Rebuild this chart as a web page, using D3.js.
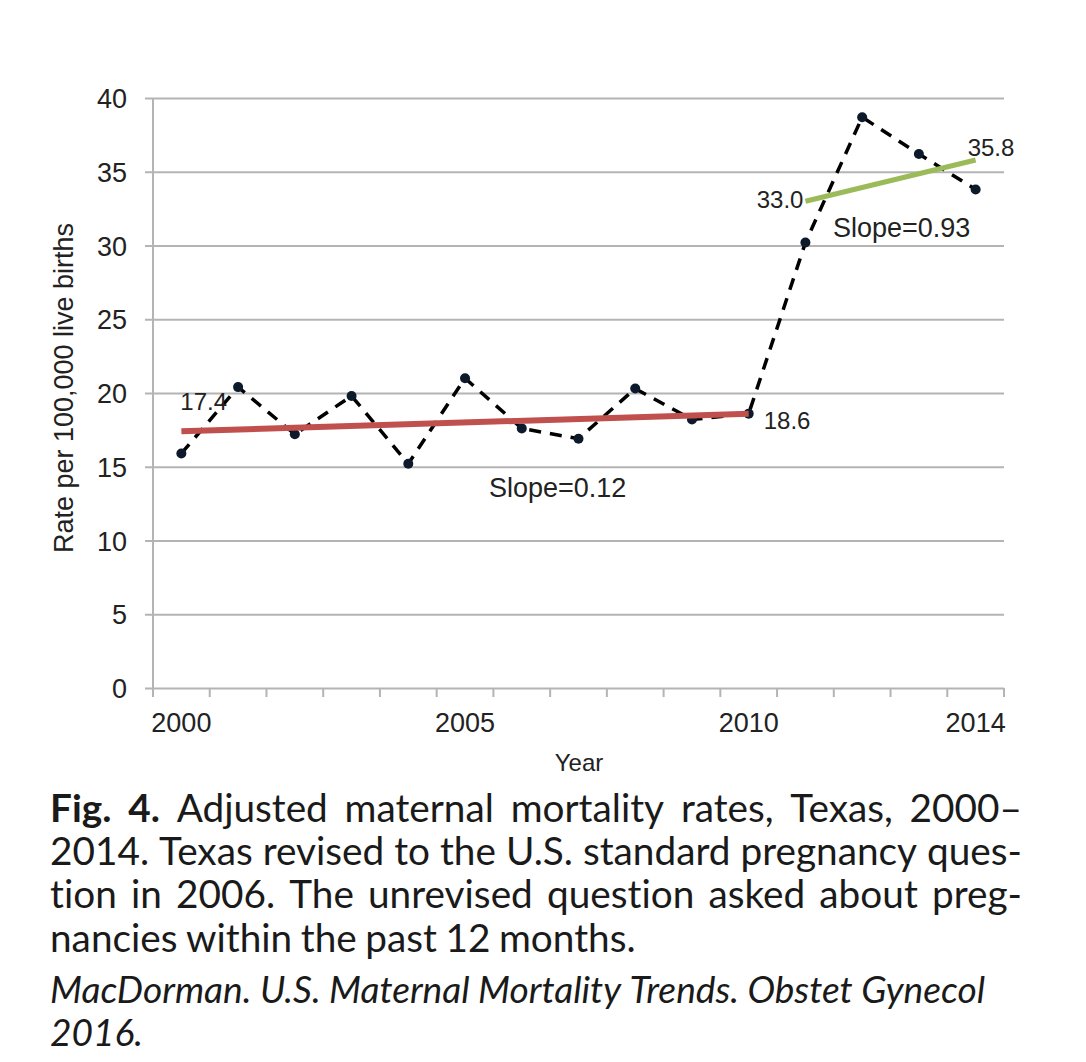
<!DOCTYPE html>
<html>
<head>
<meta charset="utf-8">
<script src="https://cdn.jsdelivr.net/npm/d3@7"></script>
<style>
  body { margin: 0; background: #fff; }
  svg { display: block; }
  text { font-variant-ligatures: none; font-feature-settings: "liga" 0; }
</style>
</head>
<body>
<script>
// data
let years = [2000, 2001, 2002, 2003, 2004, 2005, 2006, 2007, 2008, 2009, 2010, 2011, 2012, 2013, 2014];
let rates = [15.9, 20.4, 17.2, 19.8, 15.2, 21.0, 17.6, 16.9, 20.3, 18.2, 18.6, 30.2, 38.7, 36.2, 33.8];
let trendEarly = [[2000, 17.4], [2010, 18.6]];
let trendLate = [[2011, 33.0], [2014, 35.8]];
let slopes = ["Slope=0.12", "Slope=0.93"];
let yTicks = [0, 5, 10, 15, 20, 25, 30, 35, 40];
let xTickLabels = [2000, 2005, 2010, 2014];

let captionLines = [
  "Adjusted maternal mortality rates, Texas, 2000\u2013",
  "2014. Texas revised to the U.S. standard pregnancy ques-",
  "tion in 2006. The unrevised question asked about preg-",
  "nancies within the past 12 months."
];
let citeLines = [
  "MacDorman. U.S. Maternal Mortality Trends. Obstet Gynecol",
  "2016."
];

let width = 1086;
let height = 1062;
let plotLeft = 153, plotRight = 1004, plotTop = 98, plotBottom = 688;

let svg = d3.select("body").append("svg")
  .attr("width", width)
  .attr("height", height);

let x = d3.scaleBand().domain(years).range([plotLeft, plotRight]);
let cx = (d) => x(d) + x.bandwidth() / 2;
let y = d3.scaleLinear().domain([0, 40]).range([plotBottom, plotTop]);

let grey = "#b4b4b4";
let font = "'Liberation Sans', Arial, sans-serif";

// gridlines + y labels
let yAxis = d3.axisLeft(y)
  .tickValues(yTicks)
  .tickSizeInner(-(plotRight - plotLeft))
  .tickSizeOuter(0)
  .tickPadding(26);

let gy = svg.append("g")
  .attr("transform", `translate(${plotLeft},0)`)
  .call(yAxis);
gy.select(".domain").remove();
gy.selectAll(".tick line")
  .attr("x1", -8)
  .attr("stroke", grey)
  .attr("stroke-width", 2);
gy.selectAll(".tick text")
  .attr("font-family", font)
  .attr("font-size", 27)
  .attr("fill", "#222")
  .attr("dy", "0.36em");

// y axis line
svg.append("line")
  .attr("x1", plotLeft).attr("x2", plotLeft)
  .attr("y1", y(40)).attr("y2", y(0))
  .attr("stroke", grey)
  .attr("stroke-width", 2);

// x axis tick marks at category edges
let edges = years.map((d) => x(d)).concat([plotRight]);
svg.append("g").selectAll("line")
  .data(edges)
  .join("line")
  .attr("x1", (d) => d).attr("x2", (d) => d)
  .attr("y1", y(0)).attr("y2", y(0) + 9)
  .attr("stroke", grey)
  .attr("stroke-width", 2);

// x labels
let xAxis = d3.axisBottom(x)
  .tickValues(xTickLabels)
  .tickSize(0)
  .tickPadding(25);
let gx = svg.append("g")
  .attr("transform", `translate(0,${plotBottom})`)
  .call(xAxis);
gx.select(".domain").remove();
gx.selectAll(".tick text")
  .attr("font-family", font)
  .attr("font-size", 27)
  .attr("fill", "#222");

// axis titles
svg.append("text")
  .attr("transform", `translate(73,${(plotTop + plotBottom) / 2 - 5}) rotate(-90)`)
  .attr("text-anchor", "middle")
  .attr("font-family", font)
  .attr("font-size", 27)
  .attr("fill", "#222")
  .text("Rate per 100,000 live births");

svg.append("text")
  .attr("x", 579)
  .attr("y", 771)
  .attr("text-anchor", "middle")
  .attr("font-family", font)
  .attr("font-size", 24)
  .attr("fill", "#222")
  .text("Year");

// dashed series
let line = d3.line()
  .x((d, i) => cx(years[i]))
  .y((d) => y(d));

svg.append("path")
  .attr("d", line(rates))
  .attr("fill", "none")
  .attr("stroke", "#000")
  .attr("stroke-width", 3.5)
  .attr("stroke-dasharray", "12,9");

svg.append("g").selectAll("circle")
  .data(rates)
  .join("circle")
  .attr("cx", (d, i) => cx(years[i]))
  .attr("cy", (d) => y(d))
  .attr("r", 5)
  .attr("fill", "#0c1a2c");

// trend lines
let tline = d3.line()
  .x((d) => cx(d[0]))
  .y((d) => y(d[1]));

svg.append("path")
  .attr("d", tline(trendEarly))
  .attr("fill", "none")
  .attr("stroke", "#c0504d")
  .attr("stroke-width", 6);

svg.append("path")
  .attr("d", tline(trendLate))
  .attr("fill", "none")
  .attr("stroke", "#9bbb59")
  .attr("stroke-width", 5);

// labels on trend ends
let lab = (t, px, py, anchor, size) =>
  svg.append("text")
    .attr("x", px).attr("y", py)
    .attr("text-anchor", anchor)
    .attr("font-family", font)
    .attr("font-size", size)
    .attr("fill", "#222")
    .text(t);

lab(trendEarly[0][1].toFixed(1), cx(trendEarly[0][0]) - 1, y(trendEarly[0][1]) - 21, "start", 24);
lab(trendEarly[1][1].toFixed(1), cx(trendEarly[1][0]) + 15, y(trendEarly[1][1]) + 15, "start", 24);
lab(trendLate[0][1].toFixed(1), cx(trendLate[0][0]) - 2, y(trendLate[0][1]) + 7, "end", 24);
lab(trendLate[1][1].toFixed(1), cx(trendLate[1][0]) - 8, y(trendLate[1][1]) - 4, "start", 24);
lab(slopes[0], 489, 497, "start", 27);
lab(slopes[1], 833, 237, "start", 27);

// caption, justified
let capFont = "Lato, 'Open Sans', sans-serif";
let capLeft = 50, capRight = 1022;
let capBase = [822, 865, 908, 952];

// pick a font size so the last (ragged) line matches the reference width
let probe = svg.append("text")
  .attr("font-family", capFont)
  .attr("font-size", 40)
  .text(captionLines[3]);
let capSize = 40 * 592 / probe.node().getComputedTextLength();
probe.remove();

let setLine = (words, base, size, weightFirst, italic, justify, target) => {
  let g = svg.append("g");
  let nodes = words.map((w, i) =>
    g.append("text")
      .attr("y", base)
      .attr("font-family", capFont)
      .attr("font-size", size)
      .attr("font-weight", i < weightFirst ? 700 : 400)
      .attr("font-style", italic ? "italic" : "normal")
      .attr("fill", "#1a1a1a")
      .text(w)
  );
  let widths = nodes.map((n) => n.node().getComputedTextLength());
  let total = d3.sum(widths);
  let space = justify ? (target - total) / (words.length - 1) : size * 0.22;
  let px = capLeft;
  nodes.forEach((n, i) => {
    n.attr("x", px);
    px += widths[i] + space;
  });
};

captionLines.forEach((l, i) => {
  let words = l.split(" ");
  let bold = 0;
  if (i === 0) {
    words = ["Fig.", "4."].concat(words);
    bold = 2;
  }
  setLine(words, capBase[i], capSize, bold, false, i < 3, capRight - capLeft);
});

let probe2 = svg.append("text")
  .attr("font-family", capFont)
  .attr("font-size", 32)
  .attr("font-style", "italic")
  .text(citeLines[0]);
let citeSize = 32 * 935 / probe2.node().getComputedTextLength();
probe2.remove();

setLine(citeLines[0].split(" "), 1003, citeSize, 0, true, true, 935);
setLine(citeLines[1].split(" "), 1046, citeSize, 0, true, false, 0);
</script>
</body>
</html>
